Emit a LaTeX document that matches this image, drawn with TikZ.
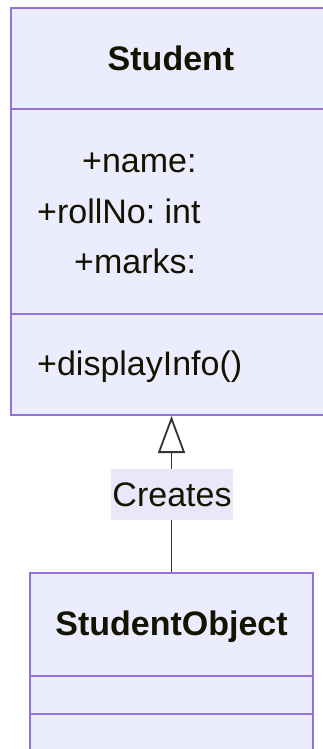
\documentclass[tikz,border=0pt]{standalone}
\usepackage{fontspec}
\setmainfont{Liberation Sans}
\usetikzlibrary{arrows.meta}
\definecolor{boxfill}{HTML}{ECECFF}
\definecolor{boxline}{HTML}{9370DB}
\definecolor{txt}{HTML}{131300}
\definecolor{edge}{HTML}{333333}
\definecolor{lblbg}{HTML}{E8E8FA}
\tikzset{
  classbox/.style={draw=boxline, fill=boxfill, line width=2pt, inner sep=0pt, rectangle},
  divider/.style={draw=boxline, line width=2pt},
  txtlabel/.style={text=txt, font=\fontsize{34}{40}\selectfont, inner sep=0pt, anchor=base west},
  titlelabel/.style={text=txt, font=\fontsize{34}{40}\selectfont\bfseries, inner sep=0pt, anchor=base},
  edgelabel/.style={fill=lblbg, text=txt, font=\fontsize{34}{40}\selectfont, inner xsep=1.5pt, minimum height=51pt},
  inherit/.style={draw=edge, line width=1.8pt, -{Triangle[open, width=27pt, length=37pt, fill=white, line width=1.8pt]}}
}
\begin{document}
\frenchspacing
\begin{tikzpicture}[x=1pt,y=-1pt]
\useasboundingbox (0,0) rectangle (323,749);
\clip (0,0) rectangle (323,749);
% Student class
\node[classbox, minimum width=319pt, minimum height=407pt] (st) at (170.5,211.5) {};
\draw[divider] (11,109) -- (330,109);
\draw[divider] (11,314) -- (330,314);
\node[titlelabel] (stt) at (171,71) {Student};
\node[txtlabel] (a1) at (82,172) {+name:};
\node[txtlabel] (a2) at (37,223) {+rollNo: int};
\node[txtlabel] (a3) at (74,273) {+marks:};
\node[txtlabel] (m1) at (37,375) {+displayInfo()};
% StudentObject class
\node[classbox, minimum width=283pt, minimum height=187pt] (so) at (171.5,666.5) {};
\draw[divider] (30,676) -- (313,676);
\draw[divider] (30,714) -- (313,714);
\node[titlelabel] (sot) at (171.5,635) {StudentObject};
% relation
\draw[inherit] (so.north) -- (so.north |- st.south);
\node[edgelabel] (lbl) at (172,494.5) {Creates};
\end{tikzpicture}
\end{document}
